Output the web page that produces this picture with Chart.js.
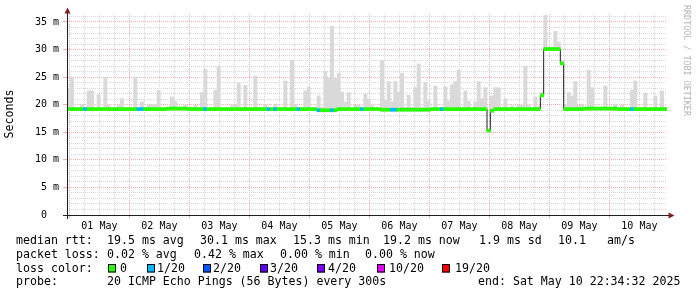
<!DOCTYPE html>
<html><head><meta charset="utf-8">
<script src="https://cdn.jsdelivr.net/npm/chart.js@4.4.1/dist/chart.umd.min.js"></script>
<style>html,body{margin:0;padding:0;background:#fff;}canvas{display:block;}</style>
</head><body>
<canvas id="c" width="697" height="297"></canvas>
<script>
// ---- data ----
const dayLabels = ['01 May','02 May','03 May','04 May','05 May','06 May','07 May','08 May','09 May','10 May'];
const spanHours = 240;            // 10 days shown
const firstMidnightHour = 0.95;   // hours from graph start to 01 May 00:00
const sampleHours = 240 / 180;    // consolidated step

const medianRtt = [
19.2,19.2,19.2,19.2,19.2,19.2,19.2,19.2,19.2,19.2,
19.2,19.2,19.2,19.2,19.2,19.2,19.2,19.2,19.2,19.2,
19.2,19.2,19.2,19.2,19.2,19.2,19.2,19.2,19.2,19.2,
19.3,19.3,19.3,19.3,19.3,19.3,19.2,19.2,19.2,19.2,
19.2,19.2,19.2,19.2,19.2,19.2,19.2,19.2,19.2,19.2,
19.2,19.2,19.2,19.2,19.2,19.2,19.2,19.2,19.2,19.2,
19.2,19.2,19.2,19.2,19.2,19.2,19.2,19.2,19.2,19.2,
19.2,19.2,19.2,19.2,19.2,19.0,19.0,19.0,19.0,19.0,
19.0,19.2,19.2,19.2,19.2,19.2,19.2,19.2,19.2,19.2,
19.2,19.2,19.2,19.2,19.1,19.1,19.1,19.1,19.1,19.1,
19.1,19.1,19.1,19.1,19.1,19.1,19.1,19.1,19.1,19.2,
19.2,19.2,19.2,19.2,19.2,19.2,19.2,19.2,19.2,19.2,
19.2,19.2,19.2,19.2,19.2,19.2,15.3,18.9,19.2,19.2,
19.2,19.2,19.2,19.2,19.2,19.2,19.2,19.2,19.2,19.2,
19.2,19.2,21.7,30.1,30.1,30.1,30.1,30.1,27.5,19.2,
19.2,19.2,19.2,19.2,19.2,19.3,19.3,19.3,19.3,19.3,
19.3,19.3,19.3,19.3,19.3,19.2,19.2,19.2,19.2,19.2,
19.2,19.2,19.2,19.2,19.2,19.2,19.2,19.2,19.2,19.2
];

const smokeMax = [
23.0,24.9,19.5,19.5,20.1,19.5,22.5,22.5,19.5,21.8,
19.5,24.9,19.9,19.5,19.5,19.9,21.1,19.5,19.5,19.5,
25.0,19.5,20.5,19.5,20.0,20.0,20.0,22.6,19.5,19.5,
19.5,21.4,20.6,19.5,19.5,19.9,19.5,19.5,19.9,19.5,
22.2,26.4,19.5,19.5,22.6,27.0,19.5,19.5,19.5,20.0,
20.0,23.9,19.5,23.5,19.5,19.5,25.2,19.5,19.5,20.0,
19.5,19.5,20.1,19.5,19.5,24.3,19.5,28.1,20.0,19.5,
19.5,22.5,23.2,19.5,19.5,21.6,19.5,26.0,24.8,34.2,
24.8,25.7,22.3,20.5,22.2,19.5,19.9,19.9,19.5,21.9,
21.0,19.9,19.5,19.5,28.0,20.8,24.2,20.5,24.2,22.3,
25.7,19.5,21.7,19.5,23.1,27.4,19.5,24.0,20.7,19.5,
23.4,19.5,19.5,23.3,20.7,23.6,24.2,26.3,19.5,22.5,
20.6,19.5,20.5,24.2,21.1,23.1,15.5,21.6,23.1,23.1,
19.5,21.1,19.5,19.8,19.5,19.9,19.9,27.0,19.9,19.5,
21.4,19.7,22.2,36.2,30.3,30.3,33.3,31.4,27.8,19.9,
22.2,21.6,24.2,19.9,20.1,19.5,26.3,23.1,19.5,19.5,
19.5,23.4,19.5,19.5,20.1,19.5,19.9,19.5,19.5,22.6,
24.3,19.5,19.5,22.1,19.5,19.5,21.6,19.5,22.5,19.5
];

const lossCount = [
0,0,0,0,0,1,0,0,0,0,
0,0,0,0,0,0,0,0,0,0,
0,1,1,0,0,0,0,0,0,0,
0,0,0,0,0,0,0,0,0,0,
0,1,0,0,0,0,0,0,0,0,
0,0,0,0,0,0,0,0,0,0,
1,0,1,0,0,0,0,0,0,1,
0,0,0,0,0,1,0,0,0,1,
0,0,0,0,0,0,0,0,1,0,
0,0,0,0,0,0,0,1,1,0,
0,0,0,0,0,0,0,0,0,0,
0,0,1,0,0,0,0,0,0,0,
0,0,0,0,0,0,0,0,0,0,
0,0,0,0,0,0,0,0,0,0,
0,0,0,0,0,0,0,0,0,0,
0,0,0,0,0,0,0,0,0,0,
0,0,0,0,0,0,0,0,0,1,
0,0,0,0,0,0,0,0,0,0
];

const lossLevels = [0, 1, 2, 3, 4, 10, 19];
const lossLabels = ['0', '1/20', '2/20', '3/20', '4/20', '10/20', '19/20'];
const lossColors = ['#26ff00', '#00b8ff', '#0059ff', '#5e00ff', '#7e00ff', '#dd00ff', '#ff0000'];

const statLines = [
  [[16,'median rtt:'],[107,'19.5 ms avg'],[200,'30.1 ms max'],[293,'15.3 ms min'],[383,'19.2 ms now'],[479,'1.9 ms sd'],[558,'10.1'],[607,'am/s']],
  [[16,'packet loss:'],[107,'0.02 % avg'],[194,'0.42 % max'],[280,'0.00 % min'],[365,'0.00 % now']],
  [[16,'loss color:']],
  [[16,'probe:'],[107,'20 ICMP Echo Pings (56 Bytes) every 300s'],[478,'end: Sat May 10 22:34:32 2025']]
];
const legendBoxX = [108, 147, 203, 260, 317, 377, 442];
const legendTextX = [120, 157, 213, 270, 328, 389, 455];
const yAxisTitle = 'Seconds';
const watermark = 'RRDTOOL / TOBI OETIKER';

// ---- helpers ----
function colorFor(n){ let c = lossColors[0]; lossLevels.forEach((l,k)=>{ if(n>=l) c = lossColors[k]; }); return c; }
const GRID = '#d6d6d6';
const MGRID = 'rgba(222,79,79,0.45)';
const MONO = '"DejaVu Sans Mono", monospace';
const TXT = '11.6px ' + MONO;
const xTickHours = []; for (let h = firstMidnightHour; h <= spanHours; h += 6) xTickHours.push(h);
const yTickValues = []; for (let v = 0; v <= 36; v++) yTickValues.push(v);
const xs = medianRtt.map((_, i) => (i + 0.5) * sampleHours);

const rrdDecor = {
  id: 'rrdDecor',
  afterDraw(chart) {
    const ctx = chart.ctx, a = chart.chartArea;
    ctx.save();
    ctx.strokeStyle = '#1f1f1f'; ctx.lineWidth = 1;
    ctx.beginPath();
    ctx.moveTo(a.left + 0.5, a.bottom + 4); ctx.lineTo(a.left + 0.5, a.top - 1);
    ctx.moveTo(a.left - 4, a.bottom + 0.5); ctx.lineTo(a.right + 2, a.bottom + 0.5);
    ctx.stroke();
    ctx.fillStyle = '#801f1f';
    ctx.beginPath(); ctx.moveTo(a.left + 0.5, a.top - 6.5); ctx.lineTo(a.left - 2.5, a.top - 0.5); ctx.lineTo(a.left + 3.5, a.top - 0.5); ctx.closePath(); ctx.fill();
    ctx.beginPath(); ctx.moveTo(a.right + 7.5, a.bottom + 0.5); ctx.lineTo(a.right + 1.5, a.bottom - 2.5); ctx.lineTo(a.right + 1.5, a.bottom + 3.5); ctx.closePath(); ctx.fill();

    // y title
    ctx.fillStyle = '#000';
    ctx.font = TXT;
    ctx.textAlign = 'center'; ctx.textBaseline = 'middle';
    ctx.save(); ctx.translate(10, 114); ctx.rotate(-Math.PI/2); ctx.fillText(yAxisTitle, 0, 0); ctx.restore();

    // watermark
    ctx.save(); ctx.fillStyle = '#b4b4b4'; ctx.font = '8.4px ' + MONO;
    ctx.translate(686, 5); ctx.rotate(Math.PI/2); ctx.textAlign = 'left'; ctx.textBaseline = 'middle';
    ctx.fillText(watermark, 0, 0); ctx.restore();

    // stats text
    const ys = [241, 255, 268.5, 282];
    ctx.font = TXT; ctx.textAlign = 'left'; ctx.textBaseline = 'middle'; ctx.fillStyle = '#000';
    statLines.forEach((line, r) => line.forEach(([x, t]) => ctx.fillText(t, x, ys[r])));
    lossLabels.forEach((lab, k) => {
      ctx.fillStyle = lossColors[k];
      ctx.fillRect(legendBoxX[k], 264.5, 8, 8);
      ctx.strokeStyle = '#000'; ctx.lineWidth = 1;
      ctx.strokeRect(legendBoxX[k] + 0.5, 264.5, 7, 7.5);
      ctx.fillStyle = '#000';
      ctx.fillText(lab, legendTextX[k], ys[2]);
    });
    ctx.restore();
  }
};

new Chart(document.getElementById('c'), {
  type: 'bar',
  data: { datasets: [
    { type: 'bar', label: 'smoke', order: 3, grouped: false, categoryPercentage: 1, barPercentage: 1,
      backgroundColor: '#d9d9d9',
      data: smokeMax.map((t, i) => ({ x: xs[i], y: [medianRtt[i] - 0.3, t] })) },
    { type: 'line', label: 'median step', order: 2, stepped: true, borderColor: '#1f1f1f', borderWidth: 1, pointRadius: 0,
      data: medianRtt.map((m, i) => ({ x: i * sampleHours, y: m })).concat([{ x: spanHours, y: medianRtt[medianRtt.length - 1] }]) },
    { type: 'bar', label: 'median', order: 1, grouped: false, categoryPercentage: 1, barPercentage: 1,
      backgroundColor: lossCount.map(colorFor),
      data: medianRtt.map((m, i) => ({ x: xs[i], y: [m - 0.27, m + 0.27] })) }
  ]},
  options: {
    responsive: false, animation: false, devicePixelRatio: 1,
    layout: { padding: { top: 14, right: 30, left: 0, bottom: 0 } },
    plugins: { legend: { display: false }, tooltip: { enabled: false } },
    scales: {
      x: { type: 'linear', min: 0, max: spanHours, offset: false,
        afterBuildTicks: s => { s.ticks = xTickHours.map(v => ({ value: v })); },
        afterFit: s => { s.height = 82; },
        grid: { offset: false, lineWidth: 1, tickLength: 3,
          color: c => (c.index % 4 === 0 ? MGRID : GRID),
          tickColor: c => (c.index % 4 === 0 ? MGRID : 'rgba(0,0,0,0)') },
        border: { display: false, dash: [1, 1] },
        ticks: { autoSkip: false, maxRotation: 0, minRotation: 0, padding: 2, color: '#000',
          font: { family: MONO, size: 10 },
          callback: (v, i) => (i % 4 === 2 ? dayLabels[(i - 2) / 4] : '') } },
      y: { min: 0, max: 36.45,
        afterBuildTicks: s => { s.ticks = yTickValues.map(v => ({ value: v })); },
        afterFit: s => { s.width = 67; },
        grid: { lineWidth: 1, tickLength: 4,
          color: c => (c.tick && c.tick.value % 5 === 0 ? MGRID : GRID),
          tickColor: c => (c.tick && c.tick.value % 5 === 0 ? MGRID : 'rgba(0,0,0,0)') },
        border: { display: false, dash: [1, 1] },
        ticks: { autoSkip: false, padding: 4, color: '#000', font: { family: MONO, size: 10 },
          callback: v => (v % 5 === 0 ? (v === 0 ? '0  ' : v + ' m') : '') } }
    }
  },
  plugins: [rrdDecor]
});
</script>
</body></html>
